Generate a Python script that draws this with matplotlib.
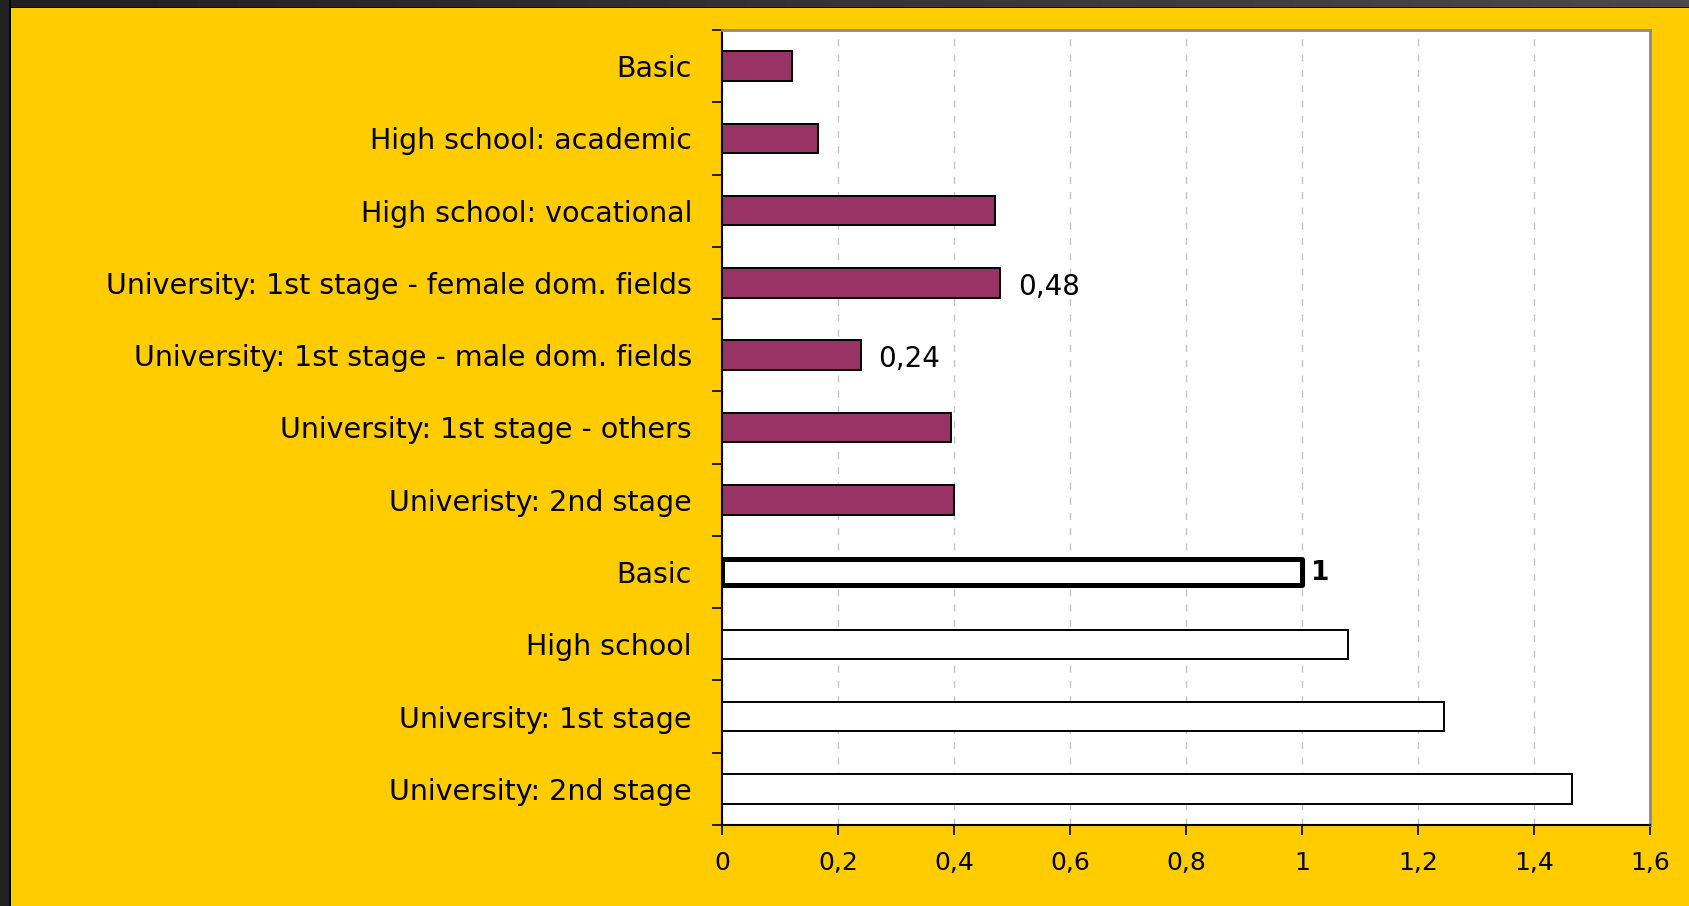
import matplotlib
matplotlib.use("Agg")
import matplotlib.pyplot as plt
import numpy as np
from matplotlib.ticker import FixedLocator, FuncFormatter

categories = [
    "Basic",
    "High school: academic",
    "High school: vocational",
    "University: 1st stage - female dom. fields",
    "University: 1st stage - male dom. fields",
    "University: 1st stage - others",
    "Univeristy: 2nd stage",
    "Basic",
    "High school",
    "University: 1st stage",
    "University: 2nd stage",
]
values = [0.12, 0.165, 0.47, 0.48, 0.24, 0.395, 0.40, 1.0, 1.08, 1.245, 1.465]
group = ["p", "p", "p", "p", "p", "p", "p", "ref", "w", "w", "w"]
value_labels = {3: "0,48", 4: "0,24", 7: "1"}
x_ticks = [0, 0.2, 0.4, 0.6, 0.8, 1.0, 1.2, 1.4, 1.6]

YELLOW = "#FFCC00"
PURPLE = "#993366"

plt.rcParams["font.family"] = ["DejaVu Sans"]

W, H = 1690, 906
fig = plt.figure(figsize=(W / 100, H / 100), dpi=100, facecolor=YELLOW)

# dark window border (top and left)
bt = fig.add_axes([0, 1 - 8 / H, 1, 8 / H])
grad = np.linspace(0, 1, 256).reshape(1, -1)
bt.imshow(grad, aspect="auto", cmap=matplotlib.colors.LinearSegmentedColormap.from_list(
    "g", ["#1f1f1f", "#4a4a4a"]), extent=[0, 1, 0, 1])
bt.axhline(0.05, color="black", lw=1.2)
bt.set_axis_off()
bl = fig.add_axes([0, 0, 11 / W, 1])
bl.set_facecolor("#222222")
bl.axvline(0.95, color="black", lw=1.2)
bl.set_xlim(0, 1)
bl.set_xticks([]); bl.set_yticks([])
for s in bl.spines.values():
    s.set_visible(False)

ax = fig.add_axes([722 / W, 1 - 825 / H, (1650 - 722) / W, (825 - 30) / H])
ax.set_facecolor("white")

pos = np.arange(len(categories))
for i, (v, g) in enumerate(zip(values, group)):
    if g == "p":
        ax.barh(pos[i], v, height=0.41, color=PURPLE, edgecolor="black", linewidth=1.4, zorder=3)
    elif g == "ref":
        ax.barh(pos[i], v, height=0.37, color="white", edgecolor="black", linewidth=3.6,
                joinstyle="round", zorder=3)
    else:
        ax.barh(pos[i], v, height=0.41, color="white", edgecolor="black", linewidth=1.4, zorder=3)

for i, txt in value_labels.items():
    if group[i] == "ref":
        ax.text(values[i] + 0.015, pos[i] + 0.02, txt, va="center", ha="left", fontsize=19,
                fontweight="bold", color="black")
    else:
        ax.text(values[i] + 0.03, pos[i] + 0.05, txt, va="center", ha="left", fontsize=20,
                color="black")

ax.set_xlim(0, 1.6)
ax.set_ylim(len(categories) - 0.5, -0.5)

ax.xaxis.set_major_locator(FixedLocator(x_ticks))
ax.xaxis.set_major_formatter(FuncFormatter(lambda v, p: ("%g" % v).replace(".", ",")))
ax.tick_params(axis="x", direction="out", length=7, width=1.2, pad=12, labelsize=18,
               colors="black")
ax.grid(axis="x", color="#c4c4c4", linestyle=(0, (5, 6)), linewidth=1.0, zorder=0)

ax.set_yticks(pos)
ax.set_yticklabels(categories)
ax.tick_params(axis="y", which="major", length=0, pad=21.6, labelsize=20.5)
ax.set_yticks(np.arange(-0.5, len(categories) + 0.5, 1.0), minor=True)
ax.tick_params(axis="y", which="minor", direction="out", length=7, width=1.2, color="black")

ax.spines["left"].set_color("black")
ax.spines["left"].set_linewidth(1.5)
ax.spines["bottom"].set_color("black")
ax.spines["bottom"].set_linewidth(1.5)
ax.spines["top"].set_color("#8a8a8a")
ax.spines["top"].set_linewidth(2.0)
ax.spines["right"].set_color("#8a8a8a")
ax.spines["right"].set_linewidth(2.0)

fig.savefig("out.png", dpi=100, facecolor=YELLOW)
